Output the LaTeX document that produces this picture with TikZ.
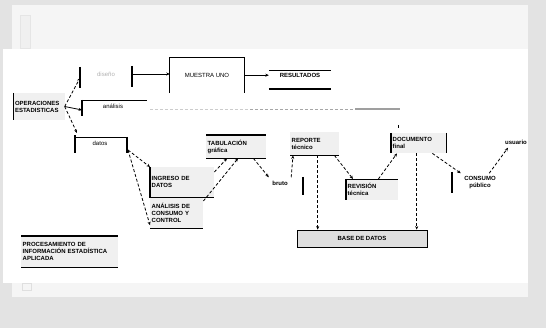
\documentclass[tikz,border=0pt]{standalone}
\usepackage{fontspec}
\setmainfont{Liberation Sans}
\usetikzlibrary{arrows.meta}
\begin{document}
\begin{tikzpicture}[x=1pt,y=-1pt, every node/.style={font=\fontsize{6}{7}\selectfont\bfseries},
  caja/.style={fill=gray!12,inner sep=1.5pt,align=left,text width=#1,minimum width=#1},
  flecha/.style={densely dashed,thick,-{Stealth[length=3.5pt,width=3pt]}},
  llena/.style={thick,-{Stealth[length=3.5pt,width=3pt]}},
  barra/.style={line width=1.3pt}]
% fondo
\useasboundingbox (0,0) rectangle (546,328);
\fill[gray!22] (0,0) rectangle (546,328);
\fill[gray!8] (12,5) rectangle (528,297);
\draw[gray!20,fill=gray!12] (20,15) rectangle (30,48);
\fill[white] (3,49) rectangle (528,283);
\draw[gray!25] (22,283) rectangle (31,290);
% origen
\node[caja=48pt,minimum height=27pt] (op) at (39,106.5) {OPERACIONES\\ESTADISTICAS};
\draw[barra] (op.north west) -- (op.south west);
% rama superior
\coordinate (b1) at (80,78);
\draw[barra] (80,67) -- (80,88);
\draw[flecha] (op.east) -- (b1);
\node[font=\fontsize{6}{7}\selectfont,text=gray!60] (dis) at (106,74) {diseño};
\coordinate (b2) at (132,74);
\draw[barra] (132,66) -- (132,87);
\node[minimum width=74pt,minimum height=35pt,font=\fontsize{6}{7}\selectfont] (mue) at (207,75.5) {MUESTRA UNO};
\draw[barra] (mue.south west) -- (mue.north west) -- (mue.north east) -- (mue.south east);
\draw[llena] (b2) -- (mue.west |- b2);
\node[minimum width=62pt,minimum height=10pt,inner sep=0pt,anchor=north] (res) at (300,70) {RESULTADOS};
\draw[thick] (res.north west) -- (res.north east);
\draw[barra] ([yshift=-19pt]res.north west) -- ([yshift=-19pt]res.north east);
\draw[llena] (mue.east |- res.west) -- (res.west);
% rama central
\coordinate (b3) at (82,110);
\draw[barra] (82,100) -- (82,116);
\draw[thick] (82,100) -- (147,100);
\draw[llena] (op.east) -- (b3);
\node[font=\fontsize{6}{7}\selectfont] (an) at (113,106) {análisis};
\draw[gray!40,densely dashed] (150,109) -- (250,109);
\draw[gray!70,densely dashed,thick] (250,109) -- (355,109);
\draw[gray!75,line width=1.2pt] (355,109) -- (400,109);
% rama inferior
\coordinate (b4) at (77,133);
\draw[barra] (75,135) -- (75,153);
\draw[thick] (75,137) -- (127,137);
\draw[barra] (127,137) -- (127,153);
\draw[flecha] (op.east) -- (b4);
\node[font=\fontsize{6}{7}\selectfont] (dat) at (100,143) {datos};
\coordinate (datR) at (128,150);
\node[caja=61pt,minimum height=30pt,anchor=north west] (ing) at (150,167) {INGRESO DE\\DATOS\\[6pt]};
\draw[barra] (ing.north west) -- (ing.south west) -- (ing.south east);
\node[caja=50pt,minimum height=30pt,anchor=north west] (ana) at (150,198) {ANÁLISIS DE\\CONSUMO Y\\CONTROL};
\draw[barra] (ana.south west) -- (ana.south east);
\draw[flecha] (datR) -- (ing.north west);
\draw[flecha] (datR) -- ([yshift=-12pt]ana.west);
\node[caja=57pt,minimum height=23pt,anchor=north west] (tab) at (206,135) {TABULACIÓN\\gráfica};
\draw[barra] (tab.north west) -- (tab.north east);
\draw[barra] (tab.south west) -- (tab.south east);
\draw[flecha] ([yshift=-5pt]ing.north east) -- ([xshift=21pt]tab.south west);
\draw[flecha] ([yshift=-3pt]ana.north east) -- ([xshift=32pt]tab.south west);
\node (bru) at (280,183) {bruto};
\draw[flecha] ([xshift=-13pt]tab.south east) -- (bru.north west);
\draw[barra] (303,177) -- (303,195);
\node[caja=46pt,minimum height=23pt,anchor=north west] (rep) at (290,132) {REPORTE\\técnico};
\draw[barra] (rep.south west) -- (rep.south east);
\draw[flecha] (bru.north east) -- ([xshift=3pt]rep.south west);
% base de datos
\node[draw,thick,fill=gray!25,minimum width=130pt,minimum height=17pt] (base) at (362,238.5) {BASE DE DATOS};
\coordinate (repS) at ([xshift=3pt]rep.south);
\draw[flecha] (repS) -- (base.north -| repS);
\node[caja=49pt,minimum height=21pt,anchor=north west] (rev) at (346,179) {REVISIÓN\\técnica};
\draw[thick] (rev.north west) -- (rev.north east);
\draw[barra] (rev.north west) -- (rev.south west);
\draw[flecha] ([xshift=-5pt]rep.south east) -- ([xshift=7pt]rev.north west);
\node[caja=52pt,minimum height=20pt,anchor=north west] (fin) at (391,133) {DOCUMENTO\\final};
\draw[barra] (fin.north west) -- (fin.south west);
\draw[barra] (fin.north east) -- (fin.south east);
\draw[flecha] ([xshift=-20pt]rev.north east) -- ([xshift=6pt]fin.south west);
\coordinate (finS) at ([xshift=-2pt]fin.south);
\draw[flecha] (finS) -- (base.north -| finS);
\draw[thick] (398,125) -- (398,128);
% consumo
\draw[barra] (452,172) -- (452,193);
\node[align=center] (con) at (480,183) {CONSUMO\\público};
\draw[flecha] ([xshift=-14pt]fin.south east) -- (con.north west);
\node (usu) at (516,142) {usuario};
\draw[flecha] ([xshift=-10pt]con.north east) -- ([xshift=-8pt]usu.south);
% leyenda
\node[caja=94pt,minimum height=31pt,anchor=north west] (leg) at (21,236) {PROCESAMIENTO DE\\INFORMACIÓN ESTADÍSTICA\\APLICADA};
\draw[barra] (leg.north west) -- (leg.north east);
\draw[barra] (leg.south west) -- (leg.south east);
\end{tikzpicture}
\end{document}
